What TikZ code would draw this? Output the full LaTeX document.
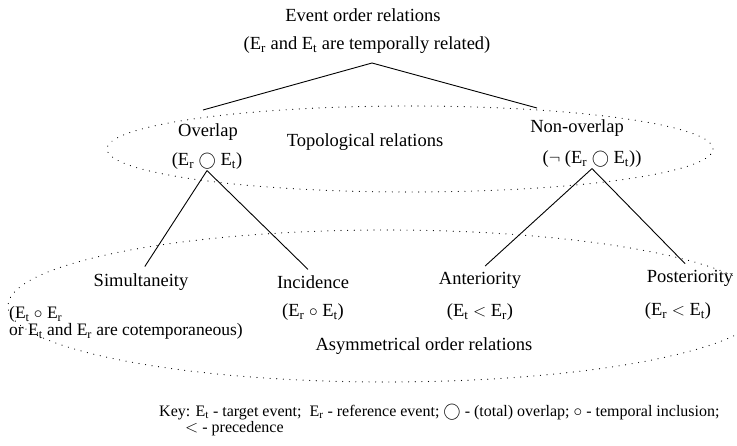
\documentclass[tikz,border=0pt]{standalone}
\usepackage{fontspec}
\setmainfont{Liberation Serif}
\newcommand{\Er}{E\textsubscript{r}}
\newcommand{\Et}{E\textsubscript{t}}

\begin{document}
\begin{tikzpicture}[x=1pt,y=-1pt,
  every node/.style={font=\fontsize{18.5}{20}\selectfont, inner sep=1pt},
  region/.style={draw, line width=1.1pt, dash pattern=on 0.1pt off 6.5pt, line cap=round},
  branch/.style={draw, line width=0.9pt}]
\useasboundingbox (0,0) rectangle (737,445);

% root
\node (title) at (363,15) {Event order relations};
\node (related) at (367,45) {(\Er\ and \Et\ are temporally related)};
\coordinate (root) at (372,63);

% topological relations
\draw[region] (410,149) ellipse [x radius=303pt, y radius=43pt];
\node (topo) at (365,142) {Topological relations};
\node (overlap) at (208,132) {Overlap};
\node (overlapf) at (207,161) {(\Er\ $\bigcirc$ \Et)};
\node (nonoverlap) at (577,128) {Non-overlap};
\node (nonoverlapf) at (592,159) {($\neg$ (\Er\ $\bigcirc$ \Et))};
\coordinate (ovend) at (203,110);
\coordinate (noend) at (537,108);

% asymmetrical order relations
\draw[region] (386,306) ellipse [x radius=378pt, y radius=76pt];
\node (simult) at (141,282) {Simultaneity};
\node (incid) at (313,282) {Incidence};
\node (anter) at (480,280) {Anteriority};
\node (poster) at (690,278) {Posteriority};
\node[anchor=west, align=left, font=\fontsize{17.5}{15.5}\selectfont] (simultf) at (8,323)
  {(\Et\ $\circ$ \Er\\or \Et\ and \Er\ are cotemporaneous)};
\node (incidf) at (313,312) {(\Er\ $\circ$ \Et)};
\node (anterf) at (480,312) {(\Et\ $<$ \Er)};
\node (posterf) at (678,311) {(\Er\ $<$ \Et)};
\node (asym) at (424,346) {Asymmetrical order relations};

% branches
\draw[branch] (root) -- (ovend);
\draw[branch] (root) -- (noend);
\draw[branch, shorten >=7pt] (overlapf.south) -- (simult.north);
\draw[branch, shorten >=7pt] (overlapf.south) -- (incid.north);
\draw[branch, shorten >=7pt] (nonoverlapf.south) -- (anter.north);
\draw[branch, shorten >=7pt] (nonoverlapf.south) -- (poster.north);

% key
\node[anchor=west, font=\fontsize{16}{18}\selectfont] (key) at (158,412)
  {Key: \Et\ - target event;\ \ \Er\ - reference event; $\bigcirc$ - (total) overlap; $\circ$ - temporal inclusion;};
\node[anchor=west, font=\fontsize{16}{18}\selectfont] (keyprec) at (184,429) {$<$ - precedence};
\end{tikzpicture}
\end{document}
